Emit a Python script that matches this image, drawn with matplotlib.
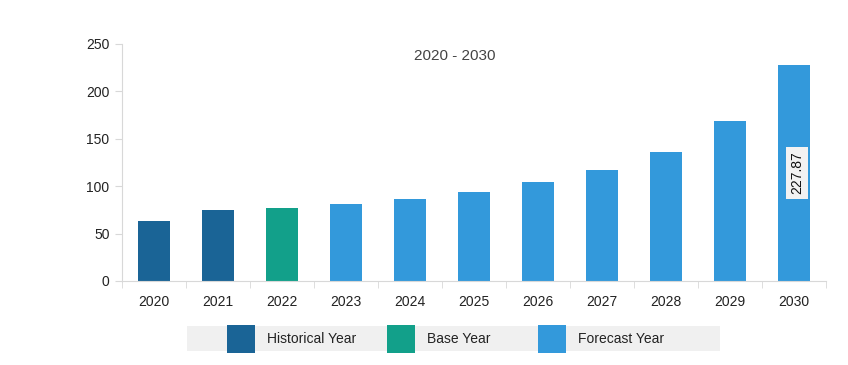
import matplotlib
matplotlib.use("Agg")
import matplotlib.pyplot as plt
from matplotlib.patches import Rectangle

years = ["2020", "2021", "2022", "2023", "2024", "2025", "2026", "2027", "2028", "2029", "2030"]
values = [63.3, 74.9, 77.0, 81.7, 87.0, 94.4, 104.0, 116.6, 136.6, 168.8, 227.87]
kinds = ["Historical Year", "Historical Year", "Base Year"] + ["Forecast Year"] * 8
colors = {"Historical Year": "#1a6496", "Base Year": "#12a08a", "Forecast Year": "#3399db"}
yticks = [0, 50, 100, 150, 200, 250]

plt.rcParams['font.family'] = ['Liberation Sans', 'DejaVu Sans']

fig = plt.figure(figsize=(8.48, 3.65), dpi=100)
ax = fig.add_axes([122/848, 1-281/365, (826-122)/848, (281-44)/365])

x = list(range(len(years)))
ax.bar(x, values, width=0.5, color=[colors[k] for k in kinds], zorder=2)
ax.set_xlim(-0.5, len(years)-0.5)
ax.set_ylim(0, 250)
ax.set_yticks(yticks)
ax.set_xticks(x)
ax.set_xticklabels(years)
ax.set_xticks([i+0.5 for i in range(-1, len(years))], minor=True)
ax.tick_params(axis='x', which='major', length=0, pad=10, labelsize=10, colors='#222222')
ax.tick_params(axis='x', which='minor', length=5, color='#d8d8d8')
ax.tick_params(axis='y', length=5, color='#d8d8d8', labelsize=10, labelcolor='#222222', pad=4)
for s in ['top', 'right']:
    ax.spines[s].set_visible(False)
ax.spines['left'].set_color('#d8d8d8')
ax.spines['bottom'].set_color('#d8d8d8')

ax.text(0.472, 0.948, "2020 - 2030", transform=ax.transAxes, ha='center', va='center',
        fontsize=11, color='#444444')

last = len(years) - 1
ax.text(last + 0.05, values[last] / 2, f"{values[last]:.2f}", rotation=90, ha='center', va='center',
        fontsize=10, color='#111111', zorder=3,
        bbox=dict(boxstyle='square,pad=0.3', facecolor='#f2f2f2', edgecolor='none'))

# legend
W, H = 848, 365
fig.patches.append(Rectangle((187/W, 1-351/H), (720-187)/W, 25/H, transform=fig.transFigure,
                             facecolor='#f0f0f0', edgecolor='none'))
legend_items = [("Historical Year", 227), ("Base Year", 387), ("Forecast Year", 538)]
for name, px in legend_items:
    fig.patches.append(Rectangle((px/W, 1-353/H), 28/W, 28/H, transform=fig.transFigure,
                                 facecolor=colors[name], edgecolor='none'))
    fig.text((px+40)/W, 1-339/H, name, ha='left', va='center', fontsize=10, color='#222222')

fig.savefig("out.png", dpi=100)
